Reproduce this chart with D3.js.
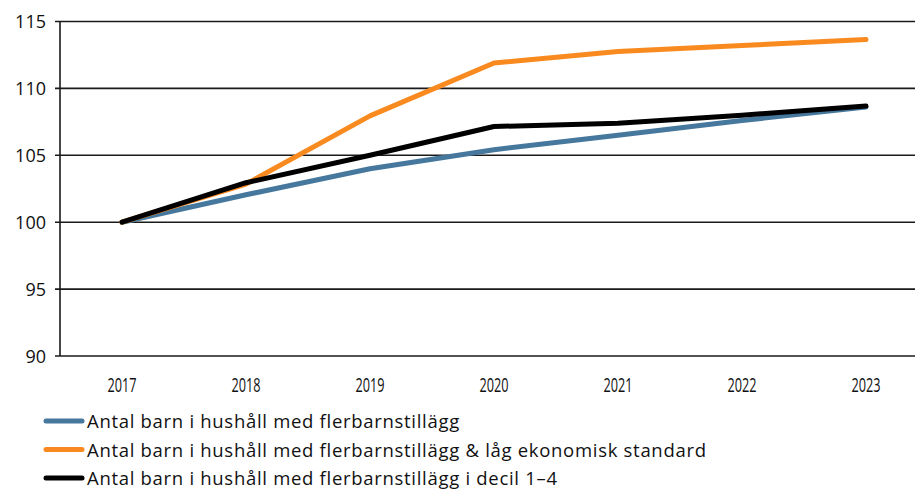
<!DOCTYPE html>
<html>
<head>
<meta charset="utf-8">
<script src="https://cdn.jsdelivr.net/npm/d3@7"></script>
<style>
    body { margin: 0; background: #fff; }
    text { font-family: "Open Sans", "DejaVu Sans", sans-serif; fill: #111; }
</style>
</head>
<body>
<div id="chart"></div>
<script>
const WIDTH = 915;
const HEIGHT = 490;

const years = ['2017', '2018', '2019', '2020', '2021', '2022', '2023'];
const yTicks = [90, 95, 100, 105, 110, 115];

const allChildren = [100, 102.05, 104.0, 105.42, 106.5, 107.6, 108.6];
const lowStandard = [100, 102.85, 107.95, 111.9, 112.75, 113.2, 113.65];
const decile14 = [100, 102.95, 105.0, 107.15, 107.4, 108.0, 108.68];

const seriesNames = [
    'Antal barn i hushåll med flerbarnstillägg',
    'Antal barn i hushåll med flerbarnstillägg & låg ekonomisk standard',
    'Antal barn i hushåll med flerbarnstillägg i decil 1–4'
];
const seriesColors = ['#46779d', '#f98a1f', '#000000'];
const seriesValues = [allChildren, lowStandard, decile14];

const xScale = d3.scalePoint().domain(years).range([60, 928]).padding(0.5);
const yScale = d3.scaleLinear().domain([90, 115]).range([356, 21.5]);

const svg = d3.select('#chart')
    .append('svg')
    .attr('width', WIDTH)
    .attr('height', HEIGHT);

// gridlines
svg.append('g')
    .selectAll('line')
    .data(yTicks)
    .enter()
    .append('line')
    .attr('x1', 55)
    .attr('x2', 930)
    .attr('y1', d => yScale(d))
    .attr('y2', d => yScale(d))
    .attr('stroke', '#1a1a1a')
    .attr('stroke-width', 1.6);

// y axis line
svg.append('line')
    .attr('x1', 60)
    .attr('x2', 60)
    .attr('y1', yScale(115))
    .attr('y2', yScale(90))
    .attr('stroke', '#1a1a1a')
    .attr('stroke-width', 1.6);

svg.append('g')
    .selectAll('text')
    .data(yTicks)
    .enter()
    .append('text')
    .attr('x', 46)
    .attr('y', d => yScale(d) + 6.5)
    .attr('text-anchor', 'end')
    .style('font-size', '18px')
    .text(d => d);

// narrow year labels
svg.append('g')
    .selectAll('text')
    .data(years)
    .enter()
    .append('text')
    .attr('transform', d => `translate(${xScale(d)},392) scale(0.62,1)`)
    .attr('text-anchor', 'middle')
    .style('font-size', '20.5px')
    .text(d => d);

const line = d3.line()
    .x((d, i) => xScale(years[i]))
    .y(d => yScale(d));

seriesValues.forEach((vals, i) => {
    svg.append('path')
        .datum(vals)
        .attr('fill', 'none')
        .attr('stroke', seriesColors[i])
        .attr('stroke-width', 5)
        .attr('stroke-linecap', 'round')
        .attr('stroke-linejoin', 'round')
        .attr('d', line);
});

// legend
const legend = svg.append('g').attr('transform', 'translate(46,421)');
seriesNames.forEach((name, i) => {
    const item = legend.append('g')
        .attr('transform', `translate(0,${i * 28.5})`);
    item.append('line')
        .attr('x1', 0)
        .attr('x2', 36)
        .attr('y1', 0)
        .attr('y2', 0)
        .attr('stroke', seriesColors[i])
        .attr('stroke-width', 5)
        .attr('stroke-linecap', 'round');
    item.append('text')
        .attr('x', 41)
        .attr('y', 7)
        .style('font-size', '18.5px')
        .style('letter-spacing', '0.7px')
        .text(name);
});
</script>
</body>
</html>
